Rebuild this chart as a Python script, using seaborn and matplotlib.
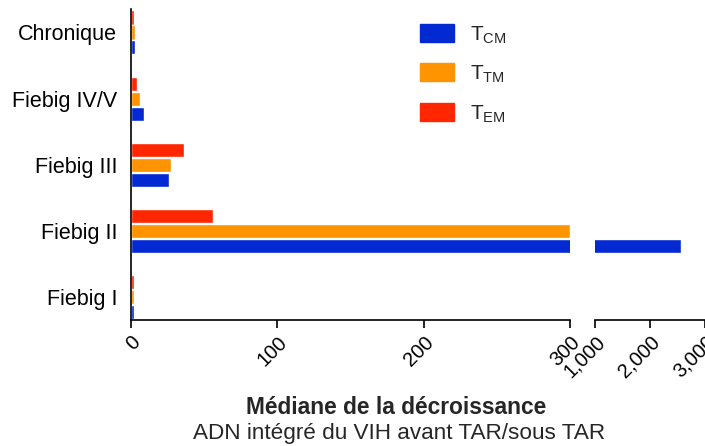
import matplotlib
matplotlib.use("Agg")
import matplotlib.pyplot as plt
import matplotlib.patches as mpatches
from matplotlib.ticker import FuncFormatter
import seaborn as sns
import pandas as pd

sns.set_theme(style="white")
plt.rcParams["font.family"] = ["Liberation Sans", "DejaVu Sans"]
plt.rcParams["mathtext.fontset"] = "custom"
plt.rcParams["mathtext.rm"] = "Liberation Sans"

# Median decay of integrated HIV DNA per infection stage and memory subset
stages = ["Chronique", "Fiebig IV/V", "Fiebig III", "Fiebig II", "Fiebig I"]
t_em = [2, 4, 36, 56, 2]
t_tm = [3, 6, 27, 300, 2]
t_cm = [3, 9, 26, 2560, 2.3]

subsets = ["T_EM", "T_TM", "T_CM"]
colors = {"T_CM": "#0329D3", "T_TM": "#FF9300", "T_EM": "#FF2600"}
legend_labels = {"T_CM": r"T$_{\mathregular{CM}}$",
                 "T_TM": r"T$_{\mathregular{TM}}$",
                 "T_EM": r"T$_{\mathregular{EM}}$"}

rows = []
for name, vals in zip(subsets, [t_em, t_tm, t_cm]):
    for stage, v in zip(stages, vals):
        rows.append({"stage": stage, "subset": name, "value": v})
df = pd.DataFrame(rows)

fig = plt.figure(figsize=(7.05, 4.46), dpi=100)
bottom = 1 - 320 / 446
height = (320 - 9) / 446
ax1 = fig.add_axes([131 / 705, bottom, 439 / 705, height])
ax2 = fig.add_axes([595 / 705, bottom, 110 / 705, height], sharey=ax1)

for ax in (ax1, ax2):
    sns.barplot(data=df, y="stage", x="value", hue="subset", order=stages,
                hue_order=subsets, palette=colors, orient="h", width=0.68,
                gap=0.06, saturation=1, legend=False, ax=ax, errorbar=None)
    ax.set_xlabel("")
    ax.set_ylabel("")
    for s in ("top", "right"):
        ax.spines[s].set_visible(False)
    ax.spines["bottom"].set_linewidth(1.2)
    ax.spines["bottom"].set_color("black")
    ax.tick_params(axis="x", direction="out", length=6, width=1.2,
                   colors="black", labelsize=14.5, bottom=True, pad=3)

ax1.set_ylim(4.35, -0.355)
ax1.set_xlim(0, 300)
ax1.set_xticks([0, 100, 200, 300])
ax1.spines["left"].set_linewidth(1.2)
ax1.spines["left"].set_color("black")
ax1.tick_params(axis="y", length=0, labelsize=15.5, colors="black", pad=10)

ax2.set_xlim(1000, 3000)
ax2.set_xticks([1000, 2000, 3000])
ax2.xaxis.set_major_formatter(FuncFormatter(lambda v, p: f"{int(v):,}"))
ax2.spines["left"].set_visible(False)
ax2.tick_params(axis="y", left=False, labelleft=False)

for ax in (ax1, ax2):
    for lab in ax.get_xticklabels():
        lab.set_rotation(45)
        lab.set_ha("right")
        lab.set_va("top")
        lab.set_rotation_mode("anchor")
    ax.set_facecolor("none")

handles = [mpatches.Patch(color=colors[k], label=legend_labels[k])
           for k in ["T_CM", "T_TM", "T_EM"]]
fig.legend(handles=handles, loc="upper left",
           bbox_to_anchor=(420 / 705, 1 - 24 / 446),
           frameon=False, fontsize=15, handlelength=1.65, handleheight=0.95,
           labelspacing=0.85, handletextpad=0.75, borderpad=0,
           borderaxespad=0)

fig.text(396 / 705, 1 - 408 / 446, "Médiane de la décroissance",
         ha="center", va="center", fontsize=16.4, fontweight="bold")
fig.text(399 / 705, 1 - 433 / 446, "ADN intégré du VIH avant TAR/sous TAR",
         ha="center", va="center", fontsize=16.2)

fig.savefig("out.png", dpi=100)
